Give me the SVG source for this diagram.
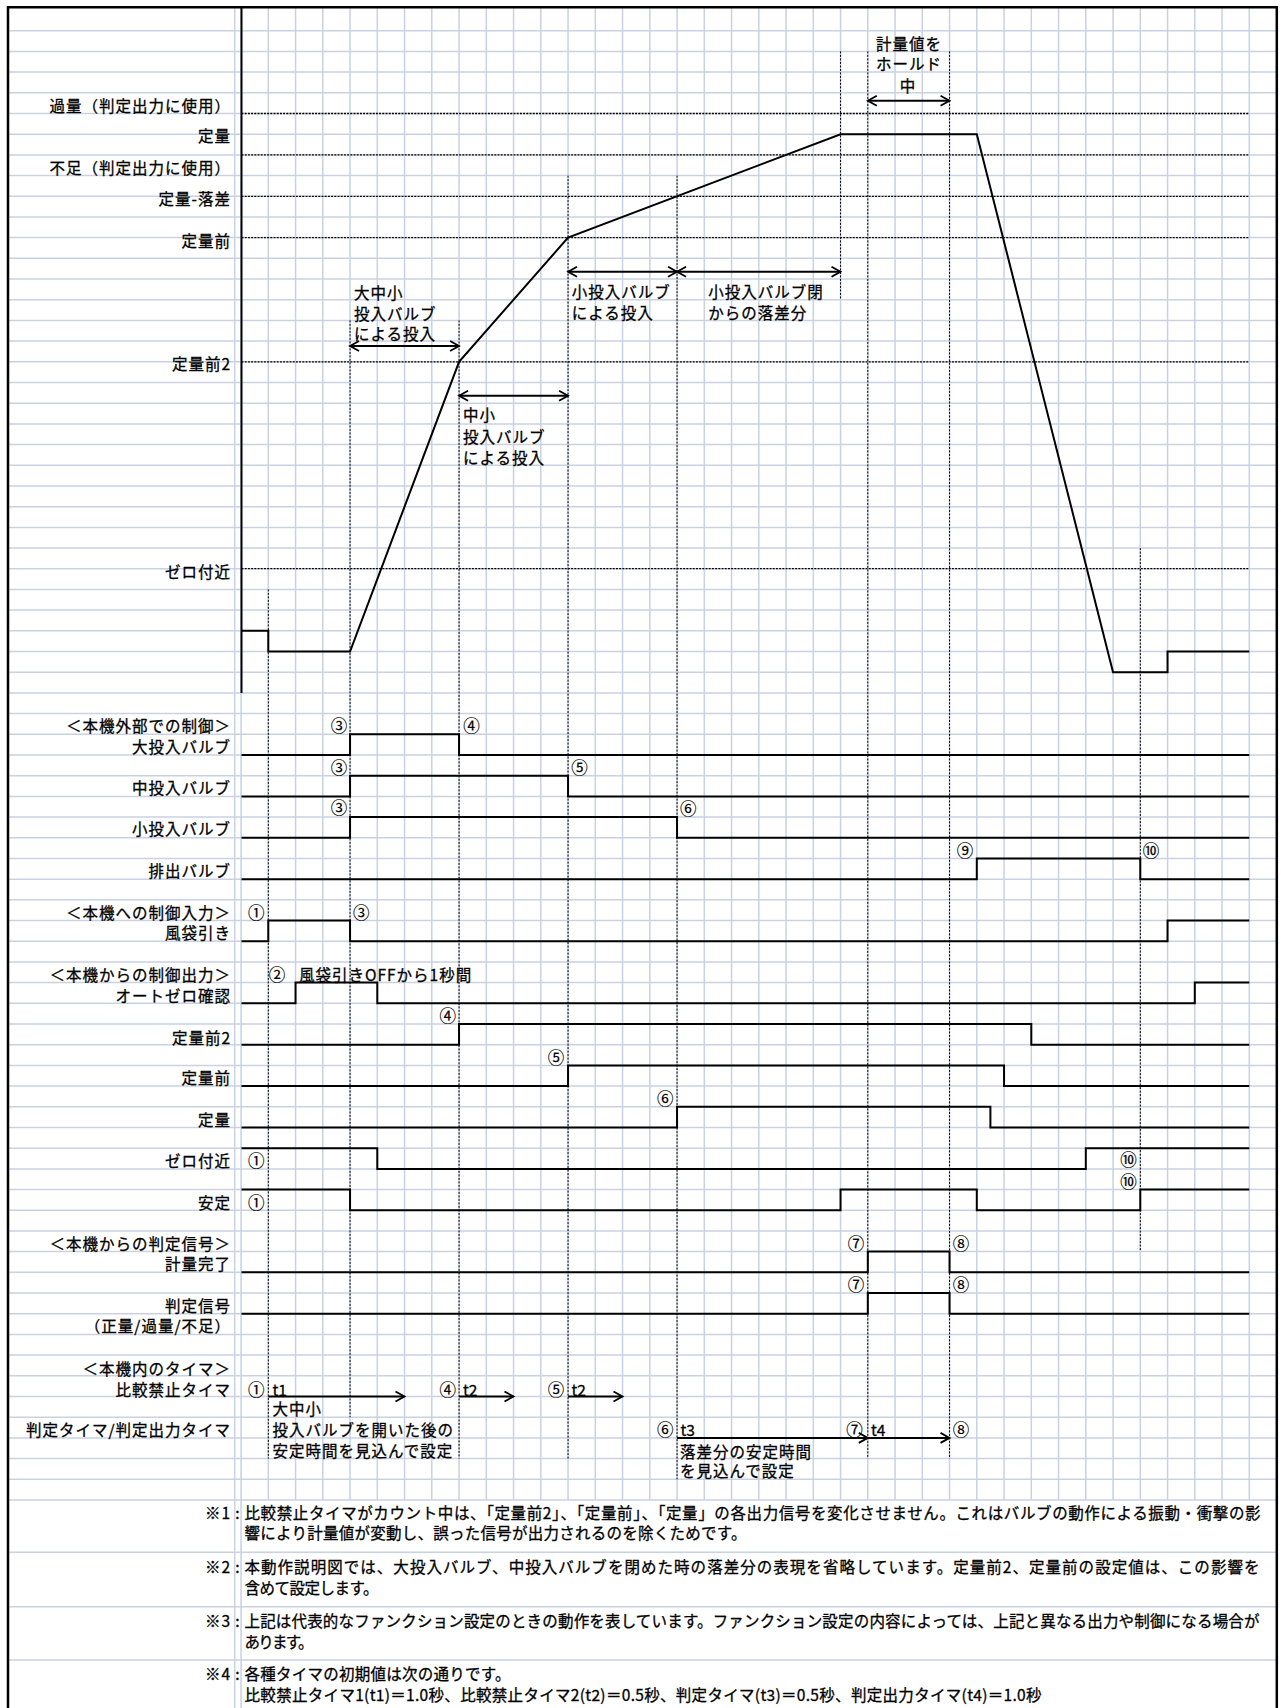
<svg xmlns="http://www.w3.org/2000/svg" width="1281" height="1708" viewBox="0 0 1281 1708">
<style>
.g{stroke:#c9d1e2;stroke-width:1.5;fill:none}
.bd{stroke:#000;stroke-width:2.5;fill:none}
.sig{stroke:#000;stroke-width:2;fill:none}
.ref{stroke:#000;stroke-width:1.3;stroke-dasharray:2 1.2;fill:none}
.vd{stroke:#000;stroke-width:1;stroke-dasharray:2 1.5;fill:none}
.arr{stroke:#000;stroke-width:2;fill:none;marker-start:url(#ah);marker-end:url(#ah)}
.tarr{stroke:#000;stroke-width:2;fill:none;marker-end:url(#ah)}
text{font-family:"Noto Sans CJK JP","Noto Sans",sans-serif;font-size:15.5px;fill:#000;stroke:#000;stroke-width:0.3px;letter-spacing:1px;dominant-baseline:central}
.r{text-anchor:end}
.m{text-anchor:middle}
.n{text-anchor:middle;letter-spacing:0;font-size:16.5px;stroke-width:0.2px}
.nt{letter-spacing:0}
</style>
<defs>
<marker id="ah" viewBox="-1 -1 13 13" refX="10" refY="5.5" markerWidth="13" markerHeight="13" markerUnits="userSpaceOnUse" orient="auto-start-reverse">
<path d="M1,0.5 L10,5.5 L1,10.5" fill="none" stroke="#000" stroke-width="1.8"/>
</marker>
</defs>
<rect width="1281" height="1708" fill="#fff"/>
<g id="grid">
<path class="g" d="M8 30.7H1277M8 51.4H1277M8 72.1H1277M8 92.8H1277M8 113.5H1277M8 134.2H1277M8 154.9H1277M8 175.6H1277M8 196.3H1277M8 217H1277M8 237.6H1277M8 258.3H1277M8 279H1277M8 299.7H1277M8 320.4H1277M8 341.1H1277M8 361.8H1277M8 382.5H1277M8 403.2H1277M8 423.9H1277M8 444.6H1277M8 465.3H1277M8 486H1277M8 506.7H1277M8 527.4H1277M8 548.1H1277M8 568.7H1277M8 589.4H1277M8 610.1H1277M8 630.8H1277M8 651.5H1277M8 672.2H1277M8 692.9H1277M8 713.6H1277M8 734.3H1277M8 755H1277M8 775.7H1277M8 796.4H1277M8 817.1H1277M8 837.8H1277M8 858.5H1277M8 879.2H1277M8 899.8H1277M8 920.5H1277M8 941.2H1277M8 961.9H1277M8 982.6H1277M8 1003.3H1277M8 1024H1277M8 1044.7H1277M8 1065.4H1277M8 1086.1H1277M8 1106.8H1277M8 1127.5H1277M8 1148.2H1277M8 1168.9H1277M8 1189.6H1277M8 1210.3H1277M8 1231H1277M8 1251.6H1277M8 1272.3H1277M8 1293H1277M8 1313.7H1277M8 1334.4H1277M8 1355.1H1277M8 1375.8H1277M8 1396.5H1277M8 1417.2H1277M8 1437.9H1277M8 1458.6H1277M8 1479.3H1277M8 1500H1277M8 1552.3H1277M8 1606.7H1277M8 1660H1277"/>
<path class="g" d="M234.7 7V1708M241.05 7V1708M268.3 7V1500M295.55 7V1500M322.8 7V1500M350.05 7V1500M377.3 7V1500M404.55 7V1500M431.8 7V1500M459.05 7V1500M486.3 7V1500M513.55 7V1500M540.8 7V1500M568.05 7V1500M595.3 7V1500M622.55 7V1500M649.8 7V1500M677.05 7V1500M704.3 7V1500M731.55 7V1500M758.8 7V1500M786.05 7V1500M813.3 7V1500M840.55 7V1500M867.8 7V1500M895.05 7V1500M922.3 7V1500M949.55 7V1500M976.8 7V1500M1004.05 7V1500M1031.3 7V1500M1058.55 7V1500M1085.8 7V1500M1113.05 7V1500M1140.3 7V1500M1167.55 7V1500M1194.8 7V1500M1222.05 7V1500M1249.3 7V1500"/>
<path class="bd" d="M8 1708V7.3H1276.8V1708"/>
</g>
<g id="reference-lines">
<path class="ref" d="M241.5 113.5H1249.3M241.5 154.9H1249.3M241.5 196.3H1249.3M241.5 237.6H1249.3M241.5 361.8H1249.3M241.5 568.7H1249.3"/>
</g>
<g id="connectors">
<path class="vd" d="M268.3 589.4V1458.6M350.05 320.4V1417.2M459.05 320.4V1458.6M568.05 175.6V1458.6M677.05 175.6V1479.3M840.55 51.4V299.7M867.8 51.4V1458.6M949.55 51.4V1458.6M1140.3 548.1V1251.6"/>
<path class="arr" d="M350.05 346H459.05"/>
<path class="arr" d="M459.05 395.7H568.05"/>
<path class="arr" d="M568.05 271.7H677.05"/>
<path class="arr" d="M677.05 271.7H840.55"/>
<path class="arr" d="M867.8 100.7H949.55"/>
<path class="tarr" d="M268.3 1396.5H404.5"/>
<path class="tarr" d="M459.05 1396.5H513.5"/>
<path class="tarr" d="M568.05 1396.5H622.5"/>
<path class="tarr" d="M677.05 1437.9H867.8"/>
<path class="tarr" d="M867.8 1437.9H949.55"/>
</g>
<g id="weight-curve">
<path class="sig" d="M241.5 7.3V692.9"/>
<path class="sig" d="M241.5 630.8H268.3V651.5H350.05L459.05 361.8L568.05 237.6L840.55 134.2H976.8L1113.05 672.2H1167.55V651.5H1249.3"/>
</g>
<g id="weight-labels">
<text class="r" x="231" y="105">過量（判定出力に使用）</text>
<text class="r" x="231" y="135">定量</text>
<text class="r" x="231" y="166.7">不足（判定出力に使用）</text>
<text class="r" x="231" y="198">定量-落差</text>
<text class="r" x="231" y="239.5">定量前</text>
<text class="r" x="231" y="362.7">定量前2</text>
<text class="r" x="231" y="571">ゼロ付近</text>
<text x="354" y="291.7">大中小</text>
<text x="354" y="313.3">投入バルブ</text>
<text x="354" y="333.3">による投入</text>
<text x="463" y="414.3">中小</text>
<text x="463" y="436">投入バルブ</text>
<text x="463" y="456.7">による投入</text>
<text x="571.7" y="291">小投入バルブ</text>
<text x="571.7" y="312.3">による投入</text>
<text x="708.3" y="291">小投入バルブ閉</text>
<text x="708.3" y="312.3">からの落差分</text>
<text class="m" x="909" y="42.7">計量値を</text>
<text class="m" x="909" y="63.3">ホールド</text>
<text class="m" x="908" y="85">中</text>
</g>
<g id="sig-large-valve"><text class="r" x="231" y="725">＜本機外部での制御＞</text><text class="r" x="231" y="745.7">大投入バルブ</text><path class="sig" d="M241.5 755H350.05V734.3H459.05V755H1249.3"/><text class="n" x="339" y="725">③</text><text class="n" x="471.4" y="725">④</text></g>
<g id="sig-mid-valve"><text class="r" x="231" y="787.3">中投入バルブ</text><path class="sig" d="M241.5 796.4H350.05V775.7H568.05V796.4H1249.3"/><text class="n" x="339" y="766.7">③</text><text class="n" x="579.6" y="766.7">⑤</text></g>
<g id="sig-small-valve"><text class="r" x="231" y="828.3">小投入バルブ</text><path class="sig" d="M241.5 837.8H350.05V817.1H677.05V837.8H1249.3"/><text class="n" x="339" y="807.3">③</text><text class="n" x="688.2" y="808.3">⑥</text></g>
<g id="sig-discharge"><text class="r" x="231" y="870">排出バルブ</text><path class="sig" d="M241.5 879.2H976.8V858.5H1140.3V879.2H1249.3"/><text class="n" x="965" y="850">⑨</text><text class="n" x="1151" y="850">⑩</text></g>
<g id="sig-tare"><text class="r" x="231" y="911.7">＜本機への制御入力＞</text><text class="r" x="231" y="931.7">風袋引き</text><path class="sig" d="M241.5 941.2H268.3V920.5H350.05V941.2H1167.55V920.5H1249.3"/><text class="n" x="256.3" y="911.7">①</text><text class="n" x="361.2" y="911.7">③</text></g>
<g id="sig-autozero"><text class="r" x="231" y="974">＜本機からの制御出力＞</text><text class="r" x="231" y="995">オートゼロ確認</text><path class="sig" d="M241.5 1003.3H295.55V982.6H377.3V1003.3H1194.8V982.6H1249.3"/><text class="n" x="277" y="974">②</text><text x="299" y="974">風袋引きOFFから1秒間</text></g>
<g id="sig-pre2"><text class="r" x="231" y="1036.7">定量前2</text><path class="sig" d="M241.5 1044.7H459.05V1024H1031.3V1044.7H1249.3"/><text class="n" x="447.8" y="1015">④</text></g>
<g id="sig-pre"><text class="r" x="231" y="1077.3">定量前</text><path class="sig" d="M241.5 1086.1H568.05V1065.4H1004.05V1086.1H1249.3"/><text class="n" x="556" y="1056.7">⑤</text></g>
<g id="sig-target"><text class="r" x="231" y="1118.7">定量</text><path class="sig" d="M241.5 1127.5H677.05V1106.8H990.4V1127.5H1249.3"/><text class="n" x="665.3" y="1098.3">⑥</text></g>
<g id="sig-zero"><text class="r" x="231" y="1160">ゼロ付近</text><path class="sig" d="M241.5 1148.2H377.3V1168.9H1085.8V1148.2H1249.3"/><text class="n" x="256.3" y="1160">①</text><text class="n" x="1128.5" y="1159">⑩</text></g>
<g id="sig-stable"><text class="r" x="231" y="1201.7">安定</text><path class="sig" d="M241.5 1189.6H350.05V1210.3H840.55V1189.6H976.8V1210.3H1140.3V1189.6H1249.3"/><text class="n" x="256.3" y="1201.7">①</text><text class="n" x="1128.5" y="1181">⑩</text></g>
<g id="sig-complete"><text class="r" x="231" y="1243.3">＜本機からの判定信号＞</text><text class="r" x="231" y="1263.3">計量完了</text><path class="sig" d="M241.5 1272.3H867.8V1251.6H949.55V1272.3H1249.3"/><text class="n" x="855.9" y="1243.3">⑦</text><text class="n" x="961" y="1243.3">⑧</text></g>
<g id="sig-judge"><text class="r" x="231" y="1305">判定信号</text><text class="r" x="231" y="1324.5">（正量/過量/不足）</text><path class="sig" d="M241.5 1313.7H867.8V1293H949.55V1313.7H1249.3"/><text class="n" x="855.9" y="1284">⑦</text><text class="n" x="961" y="1284">⑧</text></g>
<g id="timers">
<text class="r" x="231" y="1367.7">＜本機内のタイマ＞</text>
<text class="r" x="231" y="1389">比較禁止タイマ</text>
<text class="r" x="231" y="1429.3">判定タイマ/判定出力タイマ</text>
<text class="n" x="256.3" y="1389">①</text><text class="nt" x="272.5" y="1389">t1</text>
<text class="n" x="447.8" y="1389">④</text><text class="nt" x="463" y="1389">t2</text>
<text class="n" x="556" y="1389">⑤</text><text class="nt" x="571.5" y="1389">t2</text>
<text x="272.5" y="1408.3">大中小</text>
<text x="272.5" y="1429.3">投入バルブを開いた後の</text>
<text x="272.5" y="1450">安定時間を見込んで設定</text>
<text class="n" x="665.3" y="1429.3">⑥</text><text class="nt" x="680.5" y="1429.3">t3</text>
<text class="n" x="854.6" y="1429.3">⑦</text><text class="nt" x="871" y="1429.3">t4</text>
<text class="n" x="961" y="1429.3">⑧</text>
<text x="680" y="1450.7">落差分の安定時間</text>
<text x="680" y="1470">を見込んで設定</text>
</g>
<g id="notes">
<text class="r" x="231" y="1511.7">※1</text><text class="m" x="238" y="1511.7">:</text>
<text x="244.5" y="1511.7" textLength="1017" lengthAdjust="spacing">比較禁止タイマがカウント中は、「定量前2」、「定量前」、「定量」の各出力信号を変化させません。これはバルブの動作による振動・衝撃の影</text>
<text x="244.5" y="1532.3" textLength="503" lengthAdjust="spacing">響により計量値が変動し、誤った信号が出力されるのを除くためです。</text>
<text class="r" x="231" y="1565.7">※2</text><text class="m" x="238" y="1565.7">:</text>
<text x="244.5" y="1565.7" textLength="1016" lengthAdjust="spacing">本動作説明図では、大投入バルブ、中投入バルブを閉めた時の落差分の表現を省略しています。定量前2、定量前の設定値は、この影響を</text>
<text x="244.5" y="1586.7" textLength="135" lengthAdjust="spacing">含めて設定します。</text>
<text class="r" x="231" y="1620">※3</text><text class="m" x="238" y="1620">:</text>
<text x="244.5" y="1620" textLength="1016" lengthAdjust="spacing">上記は代表的なファンクション設定のときの動作を表しています。ファンクション設定の内容によっては、上記と異なる出力や制御になる場合が</text>
<text x="244.5" y="1641" textLength="70" lengthAdjust="spacing">あります。</text>
<text class="r" x="231" y="1673.3">※4</text><text class="m" x="238" y="1673.3">:</text>
<text x="244.5" y="1673.3" textLength="267" lengthAdjust="spacing">各種タイマの初期値は次の通りです。</text>
<text x="244.5" y="1694" textLength="798" lengthAdjust="spacing">比較禁止タイマ1(t1)＝1.0秒、比較禁止タイマ2(t2)＝0.5秒、判定タイマ(t3)＝0.5秒、判定出力タイマ(t4)＝1.0秒</text>
</g>
</svg>
